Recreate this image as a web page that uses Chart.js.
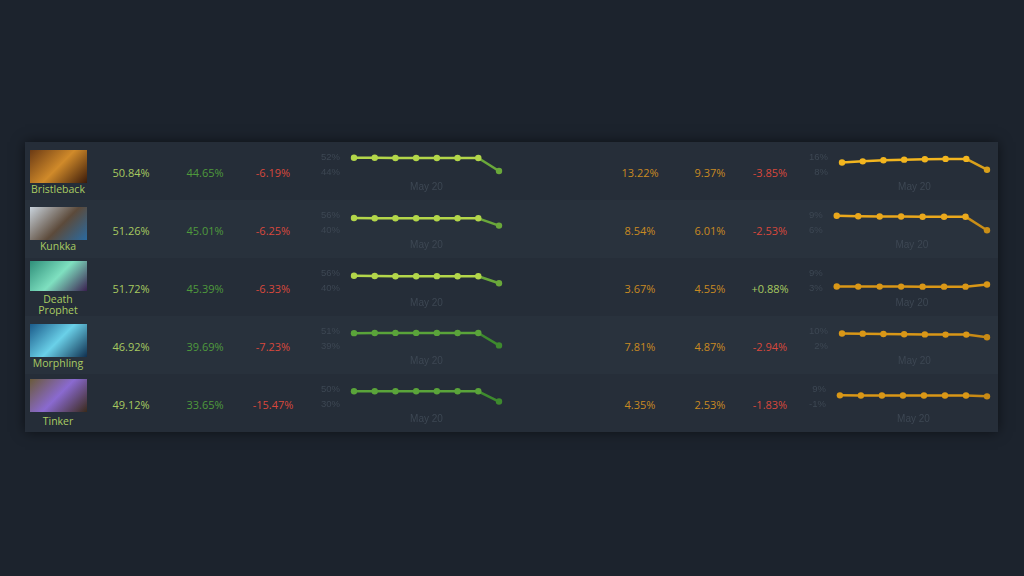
<!DOCTYPE html><html><head><meta charset="utf-8">
<script src="https://cdn.jsdelivr.net/npm/chart.js@4/dist/chart.umd.min.js"></script>
<style>
body{margin:0;width:1024px;height:576px;background:#1c232d;font-family:"Open Sans",sans-serif;overflow:hidden;position:relative}
#panel{position:absolute;left:25px;top:142px;width:973px;height:290px;background:#232b35;box-shadow:0 0 12px #0008}
.row{position:absolute;left:0;width:973px;height:58px}
.t{position:absolute;font-size:11px;transform:translateX(-50%);white-space:nowrap}
.pic{position:absolute;left:5px;width:57px}
.name{position:absolute;left:33px;transform:translateX(-50%);text-align:center;font-size:10.5px;color:#a9cc63;line-height:11px;white-space:nowrap}
.c{position:absolute}
</style></head><body>
<div id="panel"></div>
<script>
const heroes=["Bristleback","Kunkka","Death Prophet","Morphling","Tinker"];
const winBefore=["50.84%","51.26%","51.72%","46.92%","49.12%"];
const winAfter=["44.65%","45.01%","45.39%","39.69%","33.65%"];
const winDiff=["-6.19%","-6.25%","-6.33%","-7.23%","-15.47%"];
const pickBefore=["13.22%","8.54%","3.67%","7.81%","4.35%"];
const pickAfter=["9.37%","6.01%","4.55%","4.87%","2.53%"];
const pickDiff=["-3.85%","-2.53%","+0.88%","-2.94%","-1.83%"];
const days=["May 14","May 15","May 16","May 17","May 18","May 19","May 20","May 21"];
const winSeries=[
 [51.8,51.8,51.7,51.7,51.7,51.7,51.7,44.65],
 [53.2,53.0,52.9,52.9,52.9,52.9,52.9,45.01],
 [53.5,53.2,53.0,53.0,53.1,53.0,53.0,45.39],
 [49.6,49.7,49.8,49.8,49.8,49.7,49.7,39.69],
 [47.6,47.6,47.5,47.5,47.5,47.5,47.5,33.65]];
const winTicks=[[44,52],[40,56],[40,56],[39,51],[30,50]];
const pickSeries=[
 [13.3,13.9,14.5,14.8,15.0,15.2,15.2,9.37],
 [8.95,8.85,8.8,8.8,8.75,8.75,8.75,6.01],
 [3.7,3.68,3.67,3.67,3.66,3.65,3.66,4.55],
 [8.9,8.8,8.6,8.5,8.4,8.3,8.3,6.9],
 [5.0,4.95,4.9,4.9,4.9,4.9,4.95,4.35]];
const pickTicks=[[8,16],[6,9],[3,9],[2,10],[-1,9]];
const winColor=["#b3d64a","#b3d64a","#b3d64a","#5aa43a","#5aa43a"];
const winLast=["#6aa83a","#6aa83a","#6aa83a","#3e8a2e","#3e8a2e"];
const pickColor=["#f2b51f","#eaa81c","#d99717","#d99717","#d99717"];
const pickLast=["#d9a01b","#c98e17","#d99717","#c88a15","#c88a15"];
const pics=["linear-gradient(135deg,#6b3a14,#d08a2a 50%,#3a1a0a)","linear-gradient(135deg,#c9d3dc,#5c4a3a 55%,#2a6aa0)","linear-gradient(135deg,#2f8f7a,#7fe0c0 50%,#3a2050)","linear-gradient(135deg,#1a5a8a,#6ad0e8 50%,#103050)","linear-gradient(135deg,#6a5a3a,#8a6ad0 50%,#3a2a1a)"];
const picTop=[8,7,3,8,5], picH=[33,33,30,33,33], nameTop=[42,41,36,42,42];
const panel=document.getElementById('panel');
function spark(parent,left,vals,ticks,col,last){
  const d=document.createElement('div');d.className='c';d.style.left=left+'px';d.style.top='3px';d.style.width='190px';d.style.height='52px';
  const cv=document.createElement('canvas');d.appendChild(cv);parent.appendChild(d);
  const span=ticks[1]-ticks[0];
  new Chart(cv,{type:'line',data:{labels:days,datasets:[{data:vals,clip:false,borderColor:col,backgroundColor:col,pointBackgroundColor:c=>c.dataIndex===7?last:col,pointBorderWidth:0,pointRadius:3.2,borderWidth:2.5,
    segment:{borderColor:c=>c.p1DataIndex===7?last:col}}]},
   options:{responsive:true,maintainAspectRatio:false,animation:false,plugins:{legend:{display:false},tooltip:{enabled:false}},
    layout:{padding:{right:6,top:0}},
    scales:{x:{grid:{display:false},border:{display:false},ticks:{display:false},title:{display:true,text:'May 20',color:'#3d4753',font:{size:10},padding:{top:0}},offset:false},
     y:{min:ticks[0]-span*0.05,max:ticks[1]+span*0.05,grid:{display:false},border:{display:false},
      afterBuildTicks:a=>{a.ticks=[{value:ticks[0]},{value:ticks[1]}]},
      ticks:{color:'#3d4753',font:{size:9.5},callback:v=>v+'%',padding:6}}}}});
}
for(let i=0;i<5;i++){
  const r=document.createElement('div');r.className='row';r.style.top=(i*58)+'px';
  r.style.background=i%2?'#28313c':'#252d38';panel.appendChild(r);
  const half=document.createElement('div');half.style.cssText='position:absolute;left:575px;top:0;width:398px;height:58px;background:'+(i%2?'#29323d':'#262e39');r.appendChild(half);
  const p=document.createElement('div');p.className='pic';p.style.background=pics[i];p.style.top=picTop[i]+'px';p.style.height=picH[i]+'px';r.appendChild(p);
  const n=document.createElement('div');n.className='name';n.innerHTML=heroes[i].replace(' ','<br>');n.style.top=nameTop[i]+'px';r.appendChild(n);
  const add=(x,txt,c)=>{const t=document.createElement('div');t.className='t';t.style.left=x+'px';t.style.top='23px';t.style.color=c;t.textContent=txt;r.appendChild(t);};
  add(106,winBefore[i],'#a7c960');add(180,winAfter[i],'#4f9a3c');add(248,winDiff[i],'#d8483c');
  add(615,pickBefore[i],'#c98a22');add(685,pickAfter[i],'#c98a22');add(745,pickDiff[i],pickDiff[i][0]=='+'?'#a7c960':'#d8483c');
  spark(r,290,winSeries[i],winTicks[i],winColor[i],winLast[i]);
  spark(r,778,pickSeries[i],pickTicks[i],pickColor[i],pickLast[i]);
}
</script></body></html>
